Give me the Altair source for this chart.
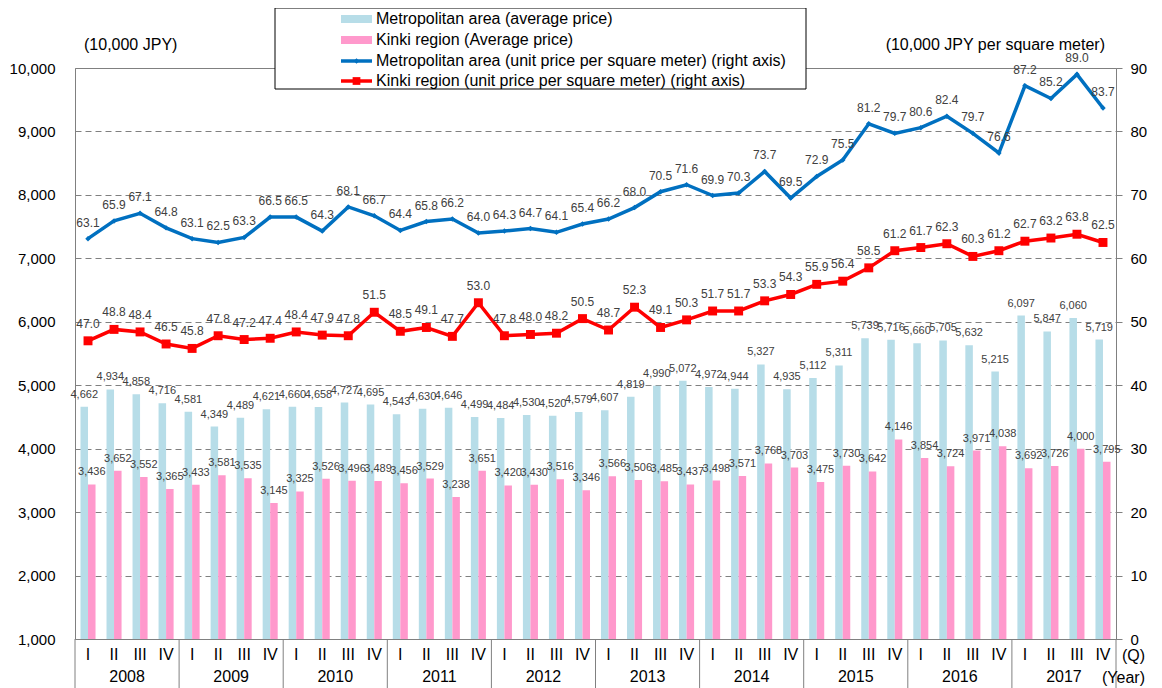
import altair as alt
import pandas as pd

years = [str(y) for y in range(2008, 2018)]
quarters = ["I", "II", "III", "IV"]

metro_avg = [4662, 4934, 4858, 4716,
             4581, 4349, 4489, 4621,
             4660, 4658, 4727, 4695,
             4543, 4630, 4646, 4499,
             4484, 4530, 4520, 4579,
             4607, 4819, 4990, 5072,
             4972, 4944, 5327, 4935,
             5112, 5311, 5739, 5716,
             5660, 5705, 5632, 5215,
             6097, 5847, 6060, 5719]
kinki_avg = [3436, 3652, 3552, 3365,
             3433, 3581, 3535, 3145,
             3325, 3526, 3496, 3489,
             3456, 3529, 3238, 3651,
             3420, 3430, 3516, 3346,
             3566, 3506, 3485, 3437,
             3498, 3571, 3768, 3703,
             3475, 3730, 3642, 4146,
             3854, 3724, 3971, 4038,
             3692, 3726, 4000, 3795]
metro_unit = [63.1, 65.9, 67.1, 64.8,
              63.1, 62.5, 63.3, 66.5,
              66.5, 64.3, 68.1, 66.7,
              64.4, 65.8, 66.2, 64.0,
              64.3, 64.7, 64.1, 65.4,
              66.2, 68.0, 70.5, 71.6,
              69.9, 70.3, 73.7, 69.5,
              72.9, 75.5, 81.2, 79.7,
              80.6, 82.4, 79.7, 76.6,
              87.2, 85.2, 89.0, 83.7]
kinki_unit = [47.0, 48.8, 48.4, 46.5,
              45.8, 47.8, 47.2, 47.4,
              48.4, 47.9, 47.8, 51.5,
              48.5, 49.1, 47.7, 53.0,
              47.8, 48.0, 48.2, 50.5,
              48.7, 52.3, 49.1, 50.3,
              51.7, 51.7, 53.3, 54.3,
              55.9, 56.4, 58.5, 61.2,
              61.7, 62.3, 60.3, 61.2,
              62.7, 63.2, 63.8, 62.5]

legend_labels = ["Metropolitan area (average price)",
                 "Kinki region (Average price)",
                 "Metropolitan area (unit price per square meter) (right axis)",
                 "Kinki region (unit price per square meter) (right axis)"]
left_title = "(10,000 JPY)"
right_title = "(10,000 JPY per square meter)"

BAR_BLUE = "#b7dde8"
BAR_PINK = "#ff99cc"
LINE_BLUE = "#0070c0"
LINE_RED = "#ff0000"
GRID = "#808080"
LABEL = "#404040"
FONT = "Liberation Sans"

n = len(metro_avg)
idx = list(range(n))

bars_df = pd.DataFrame({
    "idx": idx * 2,
    "series": ["metro"] * n + ["kinki"] * n,
    "value": metro_avg + kinki_avg,
})
metro_df = pd.DataFrame({"idx": idx, "value": metro_unit})
kinki_df = pd.DataFrame({"idx": idx, "value": kinki_unit})
q_df = pd.DataFrame({"idx": idx, "q": [quarters[i % 4] for i in idx]})
year_df = pd.DataFrame({"idx": [4 * k + 1 for k in range(len(years))], "year": years})
sep_df = pd.DataFrame({"idx": [4 * k for k in range(len(years))]})
end_df = pd.DataFrame({"idx": [n - 1]})
one = pd.DataFrame({"a": [0]})

xscale = alt.Scale(type="band", domain=idx, paddingInner=0, paddingOuter=0)
X = alt.X("idx:O", scale=xscale, axis=None)

ser_color_bar = alt.Scale(domain=["metro", "kinki"], range=[BAR_BLUE, BAR_PINK])
xoff = alt.XOffset("series:N", sort=["metro", "kinki"],
                   scale=alt.Scale(domain=["metro", "kinki"], paddingInner=0, paddingOuter=0.73))

left_axis = alt.Axis(values=list(range(1000, 10001, 1000)),
                     labelExpr="format(datum.value, ',')",
                     grid=True, gridDash=[6, 4], gridColor=GRID, gridWidth=1,
                     ticks=False, domain=False, labelFontSize=15,
                     labelColor="#000000", labelPadding=20, title=None,
                     labelFont=FONT)
yleft = alt.Y("value:Q", scale=alt.Scale(domain=[1000, 10000], nice=False, zero=False),
              axis=left_axis)

bars = alt.Chart(bars_df).mark_bar().encode(
    x=X, xOffset=xoff, y=yleft, y2=alt.datum(1000),
    color=alt.Color("series:N", scale=ser_color_bar, legend=None),
)
bar_text = alt.Chart(bars_df).mark_text(dy=-12, fontSize=11, color=LABEL, font=FONT).encode(
    x=X, xOffset=xoff, y=yleft, text=alt.Text("value:Q", format=","),
)
bar_layer = alt.layer(bars, bar_text)

right_axis = alt.Axis(orient="right", values=list(range(0, 91, 10)),
                      grid=False, ticks=True, tickSize=6, tickColor=GRID,
                      domain=False, labelFontSize=15, labelColor="#000000",
                      labelPadding=8, title=None, labelFont=FONT)
yright = alt.Y("value:Q", scale=alt.Scale(domain=[0, 90], nice=False), axis=right_axis)

metro_line = alt.Chart(metro_df).mark_line(strokeWidth=3.5, color=LINE_BLUE).encode(x=X, y=yright)
kinki_line = alt.Chart(kinki_df).mark_line(strokeWidth=3.5, color=LINE_RED).encode(x=X, y=yright)
metro_pts = alt.Chart(metro_df).mark_point(
    shape="diamond", filled=True, size=30, color=LINE_BLUE, opacity=1).encode(x=X, y=yright)
kinki_pts = alt.Chart(kinki_df).mark_square(
    size=80, color=LINE_RED, opacity=1).encode(x=X, y=yright)
metro_text = alt.Chart(metro_df).mark_text(dy=-16, fontSize=12, color=LABEL, font=FONT).encode(
    x=X, y=yright, text=alt.Text("value:Q", format=".1f"))
kinki_text = alt.Chart(kinki_df).mark_text(dy=-17, fontSize=12, color=LABEL, font=FONT).encode(
    x=X, y=yright, text=alt.Text("value:Q", format=".1f"))
line_layer = alt.layer(metro_line, kinki_line, metro_pts, kinki_pts, metro_text, kinki_text)

# category axis (quarters / years)
q_text = alt.Chart(q_df).mark_text(fontSize=16, color="#000000", font=FONT, baseline="middle").encode(
    x=X, y=alt.value(587), text="q:N")
y_text = alt.Chart(year_df).mark_text(fontSize=16, color="#000000", font=FONT, baseline="middle").encode(
    x=alt.X("idx:O", scale=xscale, axis=None, bandPosition=1), y=alt.value(609), text="year:N")
seps = alt.Chart(sep_df).mark_rule(color=GRID, strokeWidth=1).encode(
    x=alt.X("idx:O", scale=xscale, axis=None, bandPosition=0), y=alt.value(571), y2=alt.value(625))
end_sep = alt.Chart(end_df).mark_rule(color=GRID, strokeWidth=1).encode(
    x=alt.X("idx:O", scale=xscale, axis=None, bandPosition=1), y=alt.value(571), y2=alt.value(625))
q_unit = alt.Chart(one).mark_text(text="(Q)", fontSize=16, font=FONT, color="#000000",
                                  align="right", baseline="middle").encode(
    x=alt.value(1070), y=alt.value(588))
yr_unit = alt.Chart(one).mark_text(text="(Year)", fontSize=16, font=FONT, color="#000000",
                                   align="right", baseline="middle").encode(
    x=alt.value(1070), y=alt.value(610))

t_left = alt.Chart(one).mark_text(text=left_title, fontSize=16, font=FONT, color="#000000",
                                  align="left", baseline="middle").encode(x=alt.value(9), y=alt.value(-23))
t_right = alt.Chart(one).mark_text(text=right_title, fontSize=16, font=FONT, color="#000000",
                                   align="right", baseline="middle").encode(x=alt.value(1030), y=alt.value(-23))

# legend box
leg_box = alt.Chart(one).mark_rect(fill="white", stroke="#000000", strokeWidth=1).encode(
    x=alt.value(200), x2=alt.value(731), y=alt.value(-60), y2=alt.value(21))
row_y = [-49, -28, -7, 13]
sx0, sx1 = 266, 297
leg_parts = []
leg_parts.append(alt.Chart(one).mark_rect(color=BAR_BLUE).encode(
    x=alt.value(sx0), x2=alt.value(sx1), y=alt.value(row_y[0] - 4), y2=alt.value(row_y[0] + 4)))
leg_parts.append(alt.Chart(one).mark_rect(color=BAR_PINK).encode(
    x=alt.value(sx0), x2=alt.value(sx1), y=alt.value(row_y[1] - 4), y2=alt.value(row_y[1] + 4)))
leg_parts.append(alt.Chart(one).mark_rule(color=LINE_BLUE, strokeWidth=3.5).encode(
    x=alt.value(sx0), x2=alt.value(sx1), y=alt.value(row_y[2])))
leg_parts.append(alt.Chart(one).mark_point(shape="diamond", filled=True, size=30, color=LINE_BLUE, opacity=1).encode(
    x=alt.value((sx0 + sx1) / 2), y=alt.value(row_y[2])))
leg_parts.append(alt.Chart(one).mark_rule(color=LINE_RED, strokeWidth=3.5).encode(
    x=alt.value(sx0), x2=alt.value(sx1), y=alt.value(row_y[3])))
leg_parts.append(alt.Chart(one).mark_square(size=60, color=LINE_RED, opacity=1).encode(
    x=alt.value((sx0 + sx1) / 2), y=alt.value(row_y[3])))
for lab, yy in zip(legend_labels, row_y):
    leg_parts.append(alt.Chart(one).mark_text(text=lab, fontSize=16, font=FONT, color="#000000",
                                              align="left", baseline="middle").encode(
        x=alt.value(sx1 + 4), y=alt.value(yy)))

chart = alt.layer(
    bar_layer, line_layer, q_text, y_text, seps, end_sep, q_unit, yr_unit,
    t_left, t_right, leg_box, *leg_parts
).resolve_scale(y="independent").properties(
    width=1041, height=571,
    padding={"left": 67, "top": 60, "right": 31, "bottom": 49},
    autosize=alt.AutoSizeParams(type="none"),
).configure(font=FONT).configure_view(stroke=GRID, strokeWidth=1)

chart.save("out.html", embed_options={"renderer": "svg", "actions": False})
